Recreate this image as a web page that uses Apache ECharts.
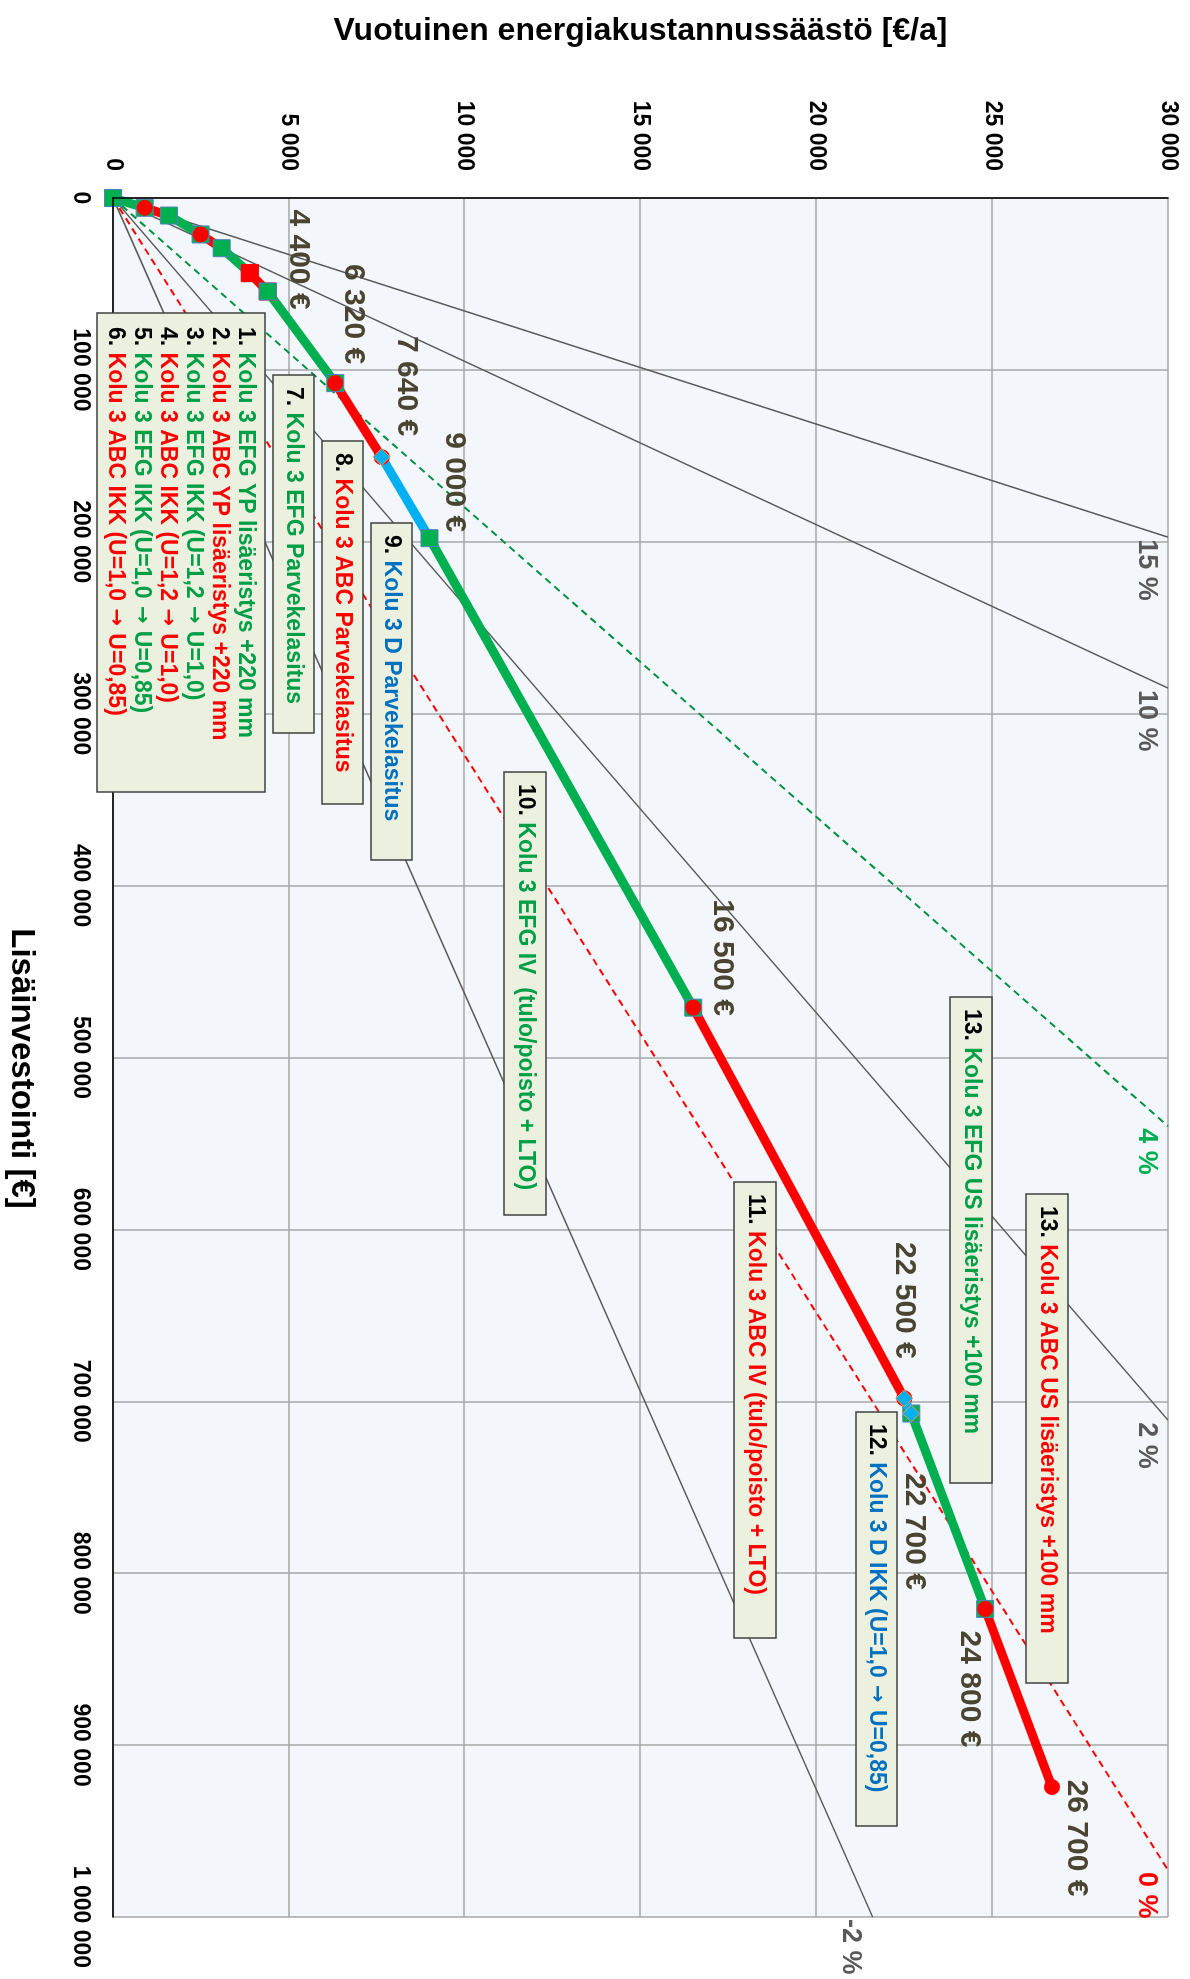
<!DOCTYPE html>
<html>
<head>
<meta charset="utf-8">
<script src="https://cdn.jsdelivr.net/npm/echarts@6/dist/echarts.min.js"></script>
<style>
html, body { margin: 0; padding: 0; background: #fff; overflow: hidden; width: 1190px; height: 1979px; }
/* the chart is drawn lying on its side: 1979 wide, then turned a quarter clockwise */
#chart { position: absolute; left: 0; top: 0; width: 1979px; height: 1190px;
  transform-origin: 0 0; transform: translate(1190px, 0) rotate(90deg); }
</style>
</head>
<body>
<div id="chart"></div>
<script>
// cumulative investment (€) and yearly saving (€/a) after each measure
const investment = [0, 5700, 10200, 21200, 29200, 43700, 54400, 107700, 150700, 197900, 471000, 698300, 707100, 820800, 924400];
const saving = [0, 900, 1590, 2490, 3090, 3890, 4400, 6320, 7640, 9000, 16500, 22500, 22700, 24800, 26700];
// which building group each step belongs to
const stepGroup = ['EFG', 'ABC', 'EFG', 'ABC', 'EFG', 'ABC', 'EFG', 'ABC', 'D', 'EFG', 'ABC', 'D', 'EFG', 'ABC'];
const stepNo = ['1.', '2.', '3.', '4.', '5.', '6.', '7.', '8.', '9.', '10.', '11.', '12.', '13.', '13.'];
const stepName = [
  'Kolu 3 EFG YP lisäeristys +220 mm',
  'Kolu 3 ABC YP lisäeristys +220 mm',
  'Kolu 3 EFG IKK (U=1,2 → U=1,0)',
  'Kolu 3 ABC IKK (U=1,2 → U=1,0)',
  'Kolu 3 EFG IKK (U=1,0 → U=0,85)',
  'Kolu 3 ABC IKK (U=1,0 → U=0,85)',
  'Kolu 3 EFG Parvekelasitus',
  'Kolu 3 ABC Parvekelasitus',
  'Kolu 3 D Parvekelasitus',
  'Kolu 3 EFG IV  (tulo/poisto + LTO)',
  'Kolu 3 ABC IV (tulo/poisto + LTO)',
  'Kolu 3 D IKK (U=1,0 → U=0,85)',
  'Kolu 3 EFG US lisäeristys +100 mm',
  'Kolu 3 ABC US lisäeristys +100 mm'
];
const firstLabelledPoint = 6;

// profitability lines (interest rate), drawn from origin to the frame
const refRate = ['15 %', '10 %', '4 %', '2 %', '0 %', '-2 %'];
const refEndInvestment = [197300, 285100, 540000, 711000, 972700, 1000000];
const refEndSaving = [30000, 30000, 30000, 30000, 30000, 21600];

// ---- styling / layout ----
const FONT = "'Liberation Sans', Arial, sans-serif";
const lineColor = { EFG: '#00B050', ABC: '#FF0000', D: '#00B0F0' };
const textColor = { EFG: '#009E47', ABC: '#FF0000', D: '#0070C0' };
const stepSymbol = ['rect', 'circle', 'rect', 'circle', 'rect', 'rect', 'rect', 'circle', 'diamond', 'rect', 'circle', 'diamond', 'rect', 'circle'];
const valueLabelOffset = {
  6: [-32, -31], 7: [-69, -18], 8: [-71, -25], 9: [-56, -25], 10: [-50, -29],
  11: [-98, 0], 12: [118, -3], 13: [80, 16], 14: [51, -24]
};
const refStyle = [
  { color: '#595959', type: 'solid', width: 1.5, label: '#595959' },
  { color: '#595959', type: 'solid', width: 1.5, label: '#595959' },
  { color: '#00913F', type: [7, 5], width: 2, label: '#00B050' },
  { color: '#595959', type: 'solid', width: 1.5, label: '#595959' },
  { color: '#FF0000', type: [7, 5], width: 2, label: '#FF0000' },
  { color: '#595959', type: 'solid', width: 1.5, label: '#595959' }
];
const boxLayout = [
  { x: 313, y: 925, w: 479, h: 168, steps: [0, 1, 2, 3, 4, 5] },
  { x: 375, y: 876, w: 358, h: 41, steps: [6] },
  { x: 441, y: 827, w: 363, h: 41, steps: [7] },
  { x: 523, y: 778, w: 337, h: 41, steps: [8] },
  { x: 772, y: 644, w: 443, h: 42, steps: [9] },
  { x: 1182, y: 414, w: 456, h: 42, steps: [10] },
  { x: 1412, y: 293, w: 414, h: 41, steps: [11] },
  { x: 997, y: 198, w: 486, h: 42, steps: [12] },
  { x: 1194, y: 122, w: 489, h: 42, steps: [13] }
];

const fmt = v => String(v).replace(/\B(?=(\d{3})+(?!\d))/g, ' ');

const series = [];
refRate.forEach((r, i) => {
  const st = refStyle[i];
  series.push({
    type: 'line', silent: true, z: 2, symbol: 'none',
    data: [[0, 0], [refEndInvestment[i], refEndSaving[i]]],
    lineStyle: { color: st.color, type: st.type, width: st.width },
    endLabel: { show: true, formatter: r, color: st.label, fontSize: 27, fontWeight: 'bold',
      fontFamily: FONT, distance: 2, offset: [0, 22] }
  });
});

for (let i = 0; i < investment.length - 1; i++) {
  const g = stepGroup[i];
  const p = i + 1;
  const end = { value: [investment[p], saving[p]] };
  if (p >= firstLabelledPoint) {
    end.label = {
      show: true, formatter: fmt(saving[p]) + ' €', position: 'inside', offset: valueLabelOffset[p],
      color: '#4A4530', fontSize: 30, fontWeight: 'bold', fontFamily: FONT
    };
  }
  const sym = stepSymbol[i];
  series.push({
    type: 'line', silent: true, z: i === 11 ? 4 : 3,
    data: [{ value: [investment[i], saving[i]] }, end],
    symbol: sym, symbolSize: sym === 'circle' ? 16 : 17, showSymbol: true,
    itemStyle: {
      color: lineColor[g],
      borderColor: sym === 'diamond' ? '#F79646' : (sym === 'rect' && g === 'EFG' ? '#4F81BD' : lineColor[g]),
      borderWidth: sym === 'circle' ? 0 : 1
    },
    lineStyle: { color: lineColor[g], width: 9 },
    label: { show: false }
  });
}

// rich text styles for the boxes; arrows come from DejaVu so they keep full size
const rich = { n: { fill: '#000' } };
Object.keys(textColor).forEach(k => {
  rich[k] = { fill: textColor[k] };
  rich[k + 'arr'] = { fill: textColor[k], fontFamily: 'DejaVu Sans', fontSize: 21 };
});
Object.keys(rich).forEach(k => {
  rich[k] = Object.assign({ fontSize: 23, fontWeight: 'bold', fontFamily: FONT, lineHeight: 26 }, rich[k]);
});
function stepText(s) {
  const g = stepGroup[s];
  const name = stepName[s].split(' → ').join('}{' + g + 'arr|\u00a0→\u00a0}{' + g + '|');
  return '{n|' + stepNo[s] + '} {' + g + '|' + name + '}';
}
const graphic = boxLayout.map(b => {
  const multi = b.steps.length > 1;
  const text = b.steps.map(stepText).join('\n');
  return {
    type: 'group', x: b.x, y: b.y, silent: true,
    children: [
      { type: 'rect', z: 100, shape: { x: 0, y: 0, width: b.w, height: b.h },
        style: { fill: '#EBF1DE', stroke: '#404040', lineWidth: 1.5 } },
      { type: 'text', z: 101, x: multi ? 14 : 12, y: multi ? 7 : b.h / 2,
        style: { text: text, rich: rich, fill: '#000', fontSize: 23, fontWeight: 'bold', fontFamily: FONT,
          lineHeight: 26, align: 'left', verticalAlign: multi ? 'top' : 'middle' } }
    ]
  };
});

const chart = echarts.init(document.getElementById('chart'));
chart.setOption({
  animation: false,
  backgroundColor: '#fff',
  grid: { left: 198, right: 62, top: 22, bottom: 112, show: true, backgroundColor: '#F3F6FB', borderWidth: 0 },
  xAxis: [{
    type: 'value', min: 0, max: 1000000, interval: 100000,
    name: 'Lisäinvestointi [€]', nameLocation: 'middle', nameGap: 75,
    nameTextStyle: { fontSize: 33, fontWeight: 'bold', fontFamily: FONT, color: '#000', padding: [0, 0, 0, 22] },
    axisLine: { lineStyle: { color: '#8C8C8C', width: 1.5 } },
    axisTick: { show: false },
    axisLabel: { formatter: v => fmt(v), margin: 21, fontSize: 23, fontWeight: 'bold', fontFamily: FONT, color: '#000' },
    splitLine: { show: true, lineStyle: { color: '#A6A6A6', width: 1.5 } }
  }, {
    type: 'value', min: 0, max: 1000000, position: 'top', z: 5,
    axisLine: { show: true, lineStyle: { color: '#000', width: 1.5 } },
    axisTick: { show: false }, axisLabel: { show: false }, splitLine: { show: false }
  }],
  yAxis: [{
    type: 'value', min: 0, max: 30000, interval: 5000,
    name: 'Vuotuinen energiakustannussäästö [€/a]', nameLocation: 'middle', nameGap: 151,
    nameTextStyle: { fontSize: 32, fontWeight: 'bold', fontFamily: FONT, color: '#000' },
    axisLine: { show: true, lineStyle: { color: '#8C8C8C', width: 1.5 } },
    axisTick: { show: false },
    axisLabel: { formatter: v => fmt(v), margin: 27, fontSize: 23, fontWeight: 'bold', fontFamily: FONT, color: '#000' },
    splitLine: { show: true, lineStyle: { color: '#A6A6A6', width: 1.5 } }
  }, {
    type: 'value', min: 0, max: 30000, position: 'right', z: 5,
    axisLine: { show: true, lineStyle: { color: '#000', width: 1.5 } },
    axisTick: { show: false }, axisLabel: { show: false }, splitLine: { show: false }
  }],
  series: series,
  graphic: graphic
});
</script>
</body>
</html>
